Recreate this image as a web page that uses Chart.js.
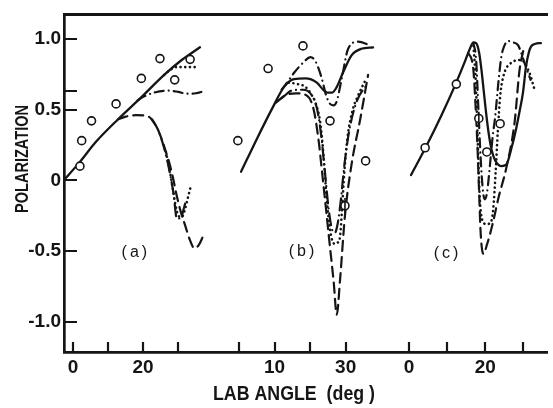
<!DOCTYPE html>
<html>
<head>
<meta charset="utf-8">
<script src="https://cdn.jsdelivr.net/npm/chart.js@4/dist/chart.umd.min.js"></script>
<style>
  html, body { margin: 0; padding: 0; background: #fff; }
  #c { display: block; }
</style>
</head>
<body>
<canvas id="c" width="553" height="408"></canvas>
<script>
// ---------------- DATA (lab angle in degrees, polarization) ----------------
// Panel (a)
const A_SOLID_X   = [-2.6, 2, 6.5, 12.8, 19, 26, 31, 36.2];
const A_SOLID_Y   = [0, 0.13, 0.27, 0.43, 0.575, 0.745, 0.85, 0.94];
const A_DOT_X     = [26, 28, 29.5, 31, 33, 35];
const A_DOT_Y     = [0.745, 0.785, 0.80, 0.80, 0.80, 0.80];
const A_DASHDOT_X = [18.4, 20.5, 23.5, 27.3, 30, 32.5, 35, 37.3];
const A_DASHDOT_Y = [0.565, 0.595, 0.622, 0.634, 0.625, 0.612, 0.615, 0.63];
const A_DASH_X    = [12.8, 15, 18, 21, 22.5, 24, 25.3, 26.5, 27.5, 28.5, 29.5, 30.7, 32, 33.3, 34.6, 35.8, 37.2];
const A_DASH_Y    = [0.43, 0.45, 0.46, 0.455, 0.43, 0.37, 0.29, 0.2, 0.12, 0.02, -0.1, -0.22, -0.32, -0.42, -0.48, -0.46, -0.39];
const A_DD2_X     = [22.5, 24, 25.5, 26.8, 27.8, 28.7, 29.6, 30.6, 31.6, 32.3];
const A_DD2_Y     = [0.43, 0.37, 0.27, 0.15, 0.03, -0.1, -0.27, -0.27, -0.2, -0.13];
const A_DOT2_X    = [26.5, 27.5, 28.4, 29.2, 30.0, 31.0, 32.0, 32.8, 33.5];
const A_DOT2_Y    = [0.2, 0.08, -0.05, -0.17, -0.25, -0.26, -0.2, -0.12, -0.05];
const A_EXP_X     = [2.0, 2.5, 5.3, 12.3, 19.5, 24.8, 29.0, 33.4];
const A_EXP_Y     = [0.10, 0.28, 0.42, 0.54, 0.72, 0.86, 0.71, 0.855];

// Panel (b)
const B_SOLID_X   = [0.6, 4.8, 9.4, 12.7, 15.5, 18.7, 21.9, 23.5, 24.8, 26.2, 27.5, 29.4, 31.7, 34.4, 37.7];
const B_SOLID_Y   = [0.06, 0.28, 0.51, 0.66, 0.715, 0.72, 0.69, 0.645, 0.62, 0.62, 0.66, 0.77, 0.885, 0.93, 0.94];
const B_DASHDOT_X = [12.0, 13.5, 15.5, 18, 20.1, 21.3, 22.4, 23.5, 24.5, 25.6, 26.6, 27.5, 28.9, 30.7, 33.5, 36.8];
const B_DASHDOT_Y = [0.64, 0.69, 0.76, 0.83, 0.87, 0.85, 0.79, 0.70, 0.60, 0.54, 0.53, 0.56, 0.72, 0.93, 0.98, 0.955];
const B_DOT_X     = [14, 16.5, 18.7, 20.5, 21.5, 22.9, 23.8, 24.7, 25.6, 26.3, 27.0, 27.8, 28.4, 29.0, 29.6, 30.5, 32, 33.5, 35.8];
const B_DOT_Y     = [0.69, 0.68, 0.66, 0.60, 0.55, 0.40, 0.165, -0.14, -0.35, -0.43, -0.45, -0.44, -0.40, -0.2, 0.05, 0.3, 0.5, 0.6, 0.72];
const B_DD2_X     = [12, 15, 18, 20.5, 22, 23.2, 24.2, 25.2, 26.2, 27.0, 27.8, 28.6, 29.6, 31, 33, 36];
const B_DD2_Y     = [0.58, 0.635, 0.64, 0.6, 0.5, 0.3, 0.05, -0.2, -0.35, -0.37, -0.3, -0.15, 0.1, 0.35, 0.55, 0.68];
const B_DASH_X    = [10.5, 13, 16, 19, 21, 22.4, 23.4, 24.4, 25.5, 26.6, 27.5, 28.4, 29.8, 31.7, 34, 36.3];
const B_DASH_Y    = [0.55, 0.60, 0.615, 0.6, 0.5, 0.28, 0.05, -0.185, -0.45, -0.71, -0.95, -0.71, -0.25, 0.12, 0.42, 0.745];
const B_EXP_X     = [-0.3, 8.2, 18.0, 25.6, 35.6, 29.8];
const B_EXP_Y     = [0.28, 0.79, 0.95, 0.42, 0.137, -0.18];
const B_ERR_X     = [29.8];
const B_ERR_LO    = [-0.235];
const B_ERR_HI    = [-0.125];

// Panel (c)
const C_SOLID_X   = [0.5, 4.4, 8.5, 12.2, 14.5, 15.8, 16.9, 17.6, 18.4, 19.0, 19.6, 20.2, 20.9, 21.7, 22.6, 24.3, 25.5, 27.0, 28.1, 29.1, 29.9, 30.7, 31.4, 32.0, 33.2, 34.6];
const C_SOLID_Y   = [0.037, 0.235, 0.46, 0.68, 0.83, 0.92, 0.975, 0.97, 0.9, 0.78, 0.63, 0.48, 0.33, 0.21, 0.14, 0.1, 0.11, 0.24, 0.365, 0.5, 0.62, 0.805, 0.9, 0.945, 0.965, 0.97];
const C_DASH_X    = [15.5, 16.8, 17.5, 18.0, 18.4, 18.8, 19.5, 20.5, 22, 23.5, 25.5, 27.7, 29.0, 30.0];
const C_DASH_Y    = [0.9, 0.8, 0.5, 0.2, -0.1, -0.38, -0.52, -0.45, -0.3, -0.12, 0.085, 0.41, 0.78, 0.92];
const C_DOT_X     = [16.9, 17.5, 18.0, 18.5, 19.2, 20.3, 21.4, 22.1, 22.7, 23.3, 23.9, 24.7, 26.8, 29.4, 31.6, 32.9];
const C_DOT_Y     = [0.95, 0.7, 0.3, -0.1, -0.28, -0.31, -0.3, -0.2, 0.05, 0.35, 0.59, 0.73, 0.83, 0.85, 0.76, 0.645];
const C_DASHDOT_X = [16.9, 17.6, 18.2, 18.8, 19.4, 19.9, 20.5, 21.2, 21.9, 22.6, 23.4, 24.2, 25.0, 26.0, 27.2, 28.6, 30.3, 31.9];
const C_DASHDOT_Y = [0.97, 0.85, 0.5, 0.15, -0.08, -0.135, -0.08, 0.1, 0.3, 0.45, 0.68, 0.87, 0.95, 0.985, 0.975, 0.955, 0.83, 0.71];
const C_EXP_X     = [4.2, 12.4, 18.3, 23.9, 20.4];
const C_EXP_Y     = [0.23, 0.68, 0.437, 0.40, 0.20];
const C_ERR_X     = [18.3];
const C_ERR_LO    = [0.39];
const C_ERR_HI    = [0.485];

// Axis ticks (per panel, in degrees) and labels
const PANEL_TICKS   = [0, 10, 20, 30];
const A_TICK_LABELS = ['0', '', '20', ''];
const B_TICK_LABELS = ['', '10', '', '30'];
const C_TICK_LABELS = ['0', '', '20', ''];
const Y_TICKS       = [-1.0, -0.5, 0, 0.5, 0.63, 1.0];
const Y_TICK_LABELS = ['-1.0', '-0.5', '0', '0.5', '', '1.0'];
const PANEL_NAMES   = ['(a)', '(b)', '(c)'];
const PANEL_NAME_AT = [[17.5, -0.51], [17.6, -0.505], [9.7, -0.52]];
const X_TITLE = 'LAB ANGLE  (deg )';
const Y_TITLE = 'POLARIZATION';

// ---------------- LAYOUT: the three panels share one horizontal axis ----------------
const PANEL_A = { offset: 0,    scale: 1 };
const PANEL_B = { offset: 47.3, scale: 1.014 };
const PANEL_C = { offset: 95.8, scale: 1.085 };
const PANELS = [PANEL_A, PANEL_B, PANEL_C];
const X_MIN = -2.54, X_MAX = 135.2;
const Y_MIN = -1.214, Y_MAX = 1.1726;
const INK = '#151515';

const toU = (p, a) => p.offset + p.scale * a;

const STYLE = {
  solid:   [],
  dot:     [0.1, 4.6],
  dash:    [10, 6],
  dashdot: [9, 5, 0.1, 5],
  dd2:     [12, 5, 0.1, 5]
};

function curve(panel, xs, ys, dash, width) {
  return {
    data: xs.map((a, i) => ({ x: toU(panel, a), y: ys[i] })),
    showLine: true,
    borderColor: INK,
    borderWidth: width || 2.2,
    borderDash: dash,
    borderCapStyle: 'round',
    borderJoinStyle: 'round',
    pointRadius: 0,
    pointHoverRadius: 0,
    cubicInterpolationMode: 'monotone',
    fill: false
  };
}
function points(panel, xs, ys) {
  return {
    data: xs.map((a, i) => ({ x: toU(panel, a), y: ys[i] })),
    showLine: false,
    pointStyle: 'circle',
    pointRadius: 4,
    pointBorderWidth: 1.6,
    pointBorderColor: INK,
    pointBackgroundColor: '#fff'
  };
}
function errbar(panel, xs, lo, hi) {
  return xs.map((a, i) => ({
    data: [{ x: toU(panel, a), y: lo[i] }, { x: toU(panel, a), y: hi[i] }],
    showLine: true, borderColor: INK, borderWidth: 1.6, pointRadius: 0
  }));
}

const datasets = [
  ...errbar(PANEL_B, B_ERR_X, B_ERR_LO, B_ERR_HI),
  ...errbar(PANEL_C, C_ERR_X, C_ERR_LO, C_ERR_HI),
  points(PANEL_A, A_EXP_X, A_EXP_Y),
  points(PANEL_B, B_EXP_X, B_EXP_Y),
  points(PANEL_C, C_EXP_X, C_EXP_Y),
  curve(PANEL_A, A_SOLID_X, A_SOLID_Y, STYLE.solid, 2.3),
  curve(PANEL_A, A_DOT_X, A_DOT_Y, STYLE.dot, 2.6),
  curve(PANEL_A, A_DASHDOT_X, A_DASHDOT_Y, STYLE.dashdot),
  curve(PANEL_A, A_DASH_X, A_DASH_Y, STYLE.dash),
  curve(PANEL_A, A_DD2_X, A_DD2_Y, STYLE.dd2),
  curve(PANEL_A, A_DOT2_X, A_DOT2_Y, STYLE.dot, 2.6),
  curve(PANEL_B, B_SOLID_X, B_SOLID_Y, STYLE.solid, 2.3),
  curve(PANEL_B, B_DASHDOT_X, B_DASHDOT_Y, STYLE.dashdot),
  curve(PANEL_B, B_DOT_X, B_DOT_Y, STYLE.dot, 2.6),
  curve(PANEL_B, B_DD2_X, B_DD2_Y, STYLE.dd2),
  curve(PANEL_B, B_DASH_X, B_DASH_Y, STYLE.dash),
  curve(PANEL_C, C_SOLID_X, C_SOLID_Y, STYLE.solid, 2.3),
  curve(PANEL_C, C_DASH_X, C_DASH_Y, STYLE.dash),
  curve(PANEL_C, C_DOT_X, C_DOT_Y, STYLE.dot, 2.6),
  curve(PANEL_C, C_DASHDOT_X, C_DASHDOT_Y, STYLE.dashdot)
];

// x ticks across all three panels
const X_TICK_U = [];
const X_TICK_TEXT = [];
[A_TICK_LABELS, B_TICK_LABELS, C_TICK_LABELS].forEach((labels, p) => {
  PANEL_TICKS.forEach((a, i) => { X_TICK_U.push(toU(PANELS[p], a)); X_TICK_TEXT.push(labels[i]); });
});

const FONT_FAMILY = '"Liberation Sans", Arial, Helvetica, sans-serif';

const whiteBg = {
  id: 'whiteBg',
  beforeDraw(chart) {
    const { ctx, width, height } = chart;
    ctx.save(); ctx.fillStyle = '#fff'; ctx.fillRect(0, 0, width, height); ctx.restore();
  }
};

const inwardTicks = {
  id: 'inwardTicks',
  afterDraw(chart) {
    const { ctx, chartArea: ca, scales: { x, y } } = chart;
    ctx.save();
    ctx.strokeStyle = INK; ctx.lineWidth = 2.2; ctx.lineCap = 'butt';
    ctx.beginPath();
    X_TICK_U.forEach(u => {
      const px = Math.round(x.getPixelForValue(u));
      ctx.moveTo(px, ca.bottom); ctx.lineTo(px, ca.bottom - 10);
    });
    Y_TICKS.forEach(v => {
      const py = Math.round(y.getPixelForValue(v));
      ctx.moveTo(ca.left, py); ctx.lineTo(ca.left + 13, py);
    });
    ctx.stroke();
    ctx.restore();
  }
};

const texts = {
  id: 'texts',
  afterDraw(chart) {
    const { ctx, scales: { x, y } } = chart;
    ctx.save();
    ctx.fillStyle = INK;
    // panel labels
    ctx.font = '16px ' + FONT_FAMILY;
    ctx.textAlign = 'center'; ctx.textBaseline = 'middle';
    try { ctx.letterSpacing = '3px'; } catch (e) {}
    PANEL_NAMES.forEach((t, i) => {
      const [a, v] = PANEL_NAME_AT[i];
      ctx.fillText(t, x.getPixelForValue(toU(PANELS[i], a)) + 1.5, y.getPixelForValue(v));
    });
    try { ctx.letterSpacing = '0px'; } catch (e) {}
    // x title (condensed)
    ctx.font = 'bold 20px ' + FONT_FAMILY;
    ctx.textBaseline = 'alphabetic';
    let w = ctx.measureText(X_TITLE).width;
    ctx.save();
    ctx.translate(294, 400);
    ctx.scale(162 / w, 1);
    ctx.fillText(X_TITLE, 0, 0);
    ctx.restore();
    // y title (condensed, rotated)
    ctx.font = 'bold 19px ' + FONT_FAMILY;
    w = ctx.measureText(Y_TITLE).width;
    ctx.save();
    ctx.translate(28, 159);
    ctx.rotate(-Math.PI / 2);
    ctx.scale(108 / w, 1);
    ctx.fillText(Y_TITLE, 0, 0);
    ctx.restore();
    ctx.restore();
  }
};

new Chart(document.getElementById('c'), {
  type: 'scatter',
  data: { datasets },
  options: {
    responsive: false,
    animation: false,
    events: [],
    layout: { padding: { top: 9, left: 0, right: 0, bottom: 0 } },
    plugins: { legend: { display: false }, tooltip: { enabled: false } },
    scales: {
      x: {
        type: 'linear', position: 'bottom', min: X_MIN, max: X_MAX,
        afterBuildTicks: s => { s.ticks = X_TICK_U.map(v => ({ value: v })); },
        afterFit: s => { s.height = 56; },
        grid: { display: false, drawTicks: false },
        border: { display: true, width: 2.7, color: INK },
        ticks: {
          autoSkip: false, maxRotation: 0, minRotation: 0, padding: 4, color: INK,
          font: { family: FONT_FAMILY, size: 19, weight: 'bold' },
          callback: (v, i) => X_TICK_TEXT[i]
        }
      },
      xTop: {
        type: 'linear', position: 'top', min: X_MIN, max: X_MAX,
        afterFit: s => { s.height = 0; },
        grid: { display: false, drawTicks: false },
        border: { display: true, width: 3, color: INK },
        ticks: { display: false }
      },
      y: {
        type: 'linear', position: 'left', min: Y_MIN, max: Y_MAX,
        afterBuildTicks: s => { s.ticks = Y_TICKS.map(v => ({ value: v })); },
        afterFit: s => { s.width = 64; },
        grid: { display: false, drawTicks: false },
        border: { display: true, width: 2.7, color: INK },
        ticks: {
          autoSkip: false, padding: 3, color: INK,
          font: { family: FONT_FAMILY, size: 19, weight: 'bold' },
          callback: (v, i) => Y_TICK_LABELS[i]
        }
      }
    }
  },
  plugins: [whiteBg, inwardTicks, texts]
});
</script>
</body>
</html>
